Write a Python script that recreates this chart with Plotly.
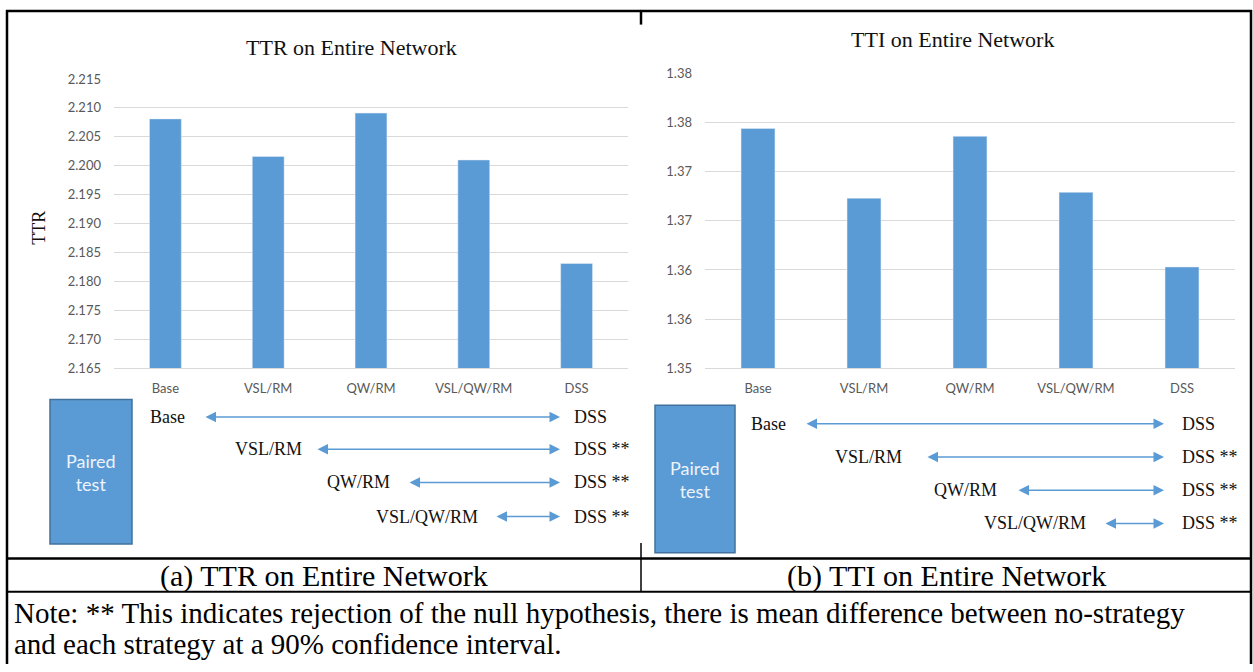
import plotly.graph_objects as go

W, H = 1253, 672

# ---------------- data ----------------
categories = ["Base", "VSL/RM", "QW/RM", "VSL/QW/RM", "DSS"]
ttr_values = [2.2081, 2.2016, 2.2091, 2.2010, 2.1831]
tti_values = [1.3744, 1.3673, 1.3736, 1.3679, 1.3603]

ttr_tickvals = [2.165, 2.170, 2.175, 2.180, 2.185, 2.190, 2.195, 2.200, 2.205, 2.210, 2.215]
ttr_ticktext = ["2.165", "2.170", "2.175", "2.180", "2.185", "2.190", "2.195", "2.200", "2.205", "2.210", "2.215"]
tti_tickvals = [1.350, 1.355, 1.360, 1.365, 1.370, 1.375, 1.380]
tti_ticktext = ["1.35", "1.36", "1.36", "1.37", "1.37", "1.38", "1.38"]

panel_titles = ["TTR on Entire Network", "TTI on Entire Network"]
y_title_left = "TTR"
pair_from = ["Base", "VSL/RM", "QW/RM", "VSL/QW/RM"]
pair_to = ["DSS", "DSS **", "DSS **", "DSS **"]
box_text = "Paired<br>test"
captions = ["(a) TTR on Entire Network", "(b) TTI on Entire Network"]
note_lines = [
    "Note: ** This indicates rejection of the null hypothesis, there is mean difference between no-strategy",
    "and each strategy at a 90% confidence interval.",
]

# ---------------- style / layout helpers ----------------
BAR = "#5b9bd5"
GRID = "#d9d9d9"
TICK = "#595959"
SERIF = "Liberation Serif, Times New Roman, serif"
SANS = "Lato, Carlito, Calibri, sans-serif"


def px(x):
    return x / W


def py(y):
    return 1 - y / H


fig = go.Figure()
fig.add_trace(go.Bar(x=categories, y=ttr_values, marker_color=BAR, width=0.31,
                     xaxis="x", yaxis="y", hoverinfo="x+y"))
fig.add_trace(go.Bar(x=categories, y=tti_values, marker_color=BAR, width=0.32,
                     xaxis="x2", yaxis="y2", hoverinfo="x+y"))

xcommon = dict(type="category", showgrid=False, ticks="", showline=True,
               linecolor=GRID, linewidth=1, zeroline=False,
               tickfont=dict(family=SANS, size=13, color=TICK), ticklabelstandoff=8)
ycommon = dict(showgrid=True, gridcolor=GRID, gridwidth=1, zeroline=False,
               showline=False, ticks="", tickfont=dict(family=SANS, size=13, color=TICK),
               ticklabelstandoff=12)

fig.update_layout(
    width=W, height=H, margin=dict(l=0, r=0, t=0, b=0, pad=0),
    paper_bgcolor="white", plot_bgcolor="rgba(0,0,0,0)", showlegend=False,
    bargap=0.69,
    xaxis=dict(domain=[px(114), px(628)], anchor="y", **xcommon),
    yaxis=dict(domain=[py(369), py(72.7)], anchor="x", range=[2.165, 2.215],
               tickmode="array", tickvals=ttr_tickvals, ticktext=ttr_ticktext, **ycommon),
    xaxis2=dict(domain=[px(705), px(1235)], anchor="y2", **xcommon),
    yaxis2=dict(domain=[py(369), py(67)], anchor="x2", range=[1.35, 1.38],
                tickmode="array", tickvals=tti_tickvals, ticktext=tti_ticktext, **ycommon),
)

ann = []
shapes = []

# chart titles
for title, cx, cy in zip(panel_titles, [351, 952], [40, 32]):
    ann.append(dict(text=title, x=px(cx), y=py(cy), xref="paper", yref="paper",
                    xanchor="center", yanchor="middle", showarrow=False,
                    font=dict(family=SERIF, size=22, color="#111111")))
ann.append(dict(text=y_title_left, x=px(39), y=py(225), xref="paper", yref="paper",
                textangle=-90, xanchor="center", yanchor="middle", showarrow=False,
                font=dict(family=SERIF, size=18, color="#111111")))

# paired-test diagrams
panels = [
    dict(box=(50, 401, 132, 549), rows=[419, 452, 486, 521],
         lab_right=[187, 304, 392, 480], tip_left=[204, 316, 408, 495],
         tip_right=560, dss_x=572),
    dict(box=(655, 407, 735, 558), rows=[426, 460, 494, 528],
         lab_right=[788, 904, 999, 1088], tip_left=[805, 926, 1017, 1104],
         tip_right=1164, dss_x=1180),
]
for p in panels:
    x0, y0, x1, y1 = p["box"]
    shapes.append(dict(type="rect", xref="paper", yref="paper",
                       x0=px(x0), x1=px(x1), y0=py(y1), y1=py(y0),
                       fillcolor=BAR, line=dict(color="#41719c", width=1.5)))
    ann.append(dict(text=box_text, x=px((x0 + x1) / 2), y=py((y0 + y1) / 2 + 1),
                    xref="paper", yref="paper", xanchor="center", yanchor="middle",
                    showarrow=False, font=dict(family=SANS, size=18, color="#eef3fb")))
    for i, (a, b) in enumerate(zip(pair_from, pair_to)):
        yy = p["rows"][i]
        ann.append(dict(text=a, x=px(p["lab_right"][i]), y=py(yy), xref="paper", yref="paper",
                        xanchor="right", yanchor="middle", showarrow=False,
                        font=dict(family=SERIF, size=18, color="#111111")))
        ann.append(dict(text=b, x=px(p["dss_x"]), y=py(yy), xref="paper", yref="paper",
                        xanchor="left", yanchor="middle", showarrow=False,
                        font=dict(family=SERIF, size=18, color="#111111")))
        ann.append(dict(text="", x=px(p["tip_right"]), y=py(yy), xref="paper", yref="paper",
                        axref="pixel", ayref="pixel",
                        ax=-(p["tip_right"] - p["tip_left"][i]), ay=0,
                        showarrow=True, arrowside="end+start", arrowhead=2, startarrowhead=2,
                        arrowsize=1.4, startarrowsize=1.4, arrowwidth=1.5,
                        arrowcolor=BAR, standoff=0, startstandoff=0))

# captions and note
for cap, cx in zip(captions, [324, 946]):
    ann.append(dict(text=cap, x=px(cx), y=py(582), xref="paper", yref="paper",
                    xanchor="center", yanchor="middle", showarrow=False,
                    font=dict(family=SERIF, size=30, color="black")))
for line, ly in zip(note_lines, [620, 651]):
    ann.append(dict(text=line, x=px(12), y=py(ly), xref="paper", yref="paper",
                    xanchor="left", yanchor="middle", showarrow=False,
                    font=dict(family=SERIF, size=29, color="black")))

# table frame lines
def hline(x0, x1, y, w=2.5):
    shapes.append(dict(type="line", xref="paper", yref="paper", x0=px(x0), x1=px(x1),
                       y0=py(y), y1=py(y), line=dict(color="black", width=w)))


def vline(x, y0, y1, w=2.5):
    shapes.append(dict(type="line", xref="paper", yref="paper", x0=px(x), x1=px(x),
                       y0=py(y0), y1=py(y1), line=dict(color="black", width=w)))


hline(6, 1252, 3)
hline(6, 1252, 564)
hline(6, 1252, 598, 2)
vline(7, 2, 672)
vline(1251, 2, 672)
vline(641, 2, 17)
vline(641, 548, 598, 1.5)

fig.update_layout(annotations=ann, shapes=shapes)

fig.write_html("out.html", config={"displayModeBar": False},
               post_script="document.body.style.margin='0';document.body.style.overflow='hidden';")
